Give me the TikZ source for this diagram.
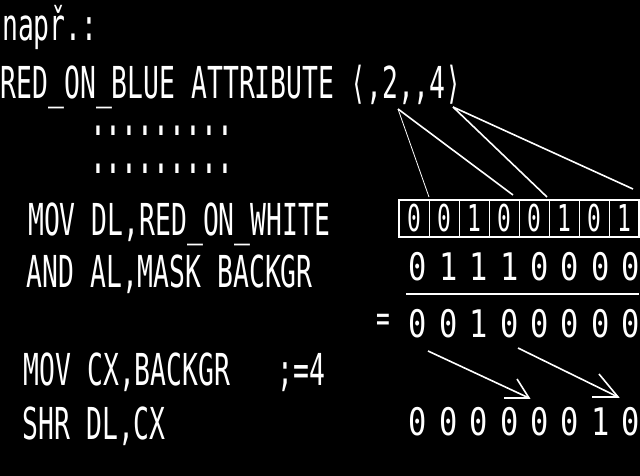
\documentclass[tikz,border=0pt]{standalone}
\usepackage{fontspec}
\usepackage{graphicx}
\newfontfamily\crtfont{DejaVu Sans Mono}
\newcommand\crtx[1]{\scalebox{0.6}[1]{#1}}
\newcommand\crtdot[1]{\scalebox{0.6}[1.45]{#1}}
\newcommand\crtd[1]{\scalebox{0.8}[1]{#1}}
\newcommand\crtb[1]{\scalebox{0.62}[1]{#1}}
\begin{document}
\begin{tikzpicture}[x=1pt,y=-1pt,
  txt/.style={anchor=base west, inner sep=0pt, text=white, font=\crtfont\fontsize{44}{44}\selectfont},
  bit/.style={anchor=center, inner sep=0pt, text=white, font=\crtfont\fontsize{38}{38}\selectfont},
  cell/.style={draw=white, line width=0.8pt, minimum width=30pt, minimum height=37pt, inner sep=0pt, text=white, font=\crtfont\fontsize{37}{37}\selectfont},
  lnk/.style={white, line width=1.6pt},
  thinlnk/.style={white, line width=0.8pt}]
\fill[black] (0,0) rectangle (640,476);
\useasboundingbox (0,0) rectangle (640,476);

% text lines
\node[txt] (napr) at (2,41) {\crtx{např.:}};
\node[txt] (attr) at (0.5,99) {\crtx{RED\_ON\_BLUE ATTRIBUTE ⟨,2,,4⟩}};
\node[txt] (dotsa) at (89.8,136) {\crtdot{.........}};
\node[txt] (dotsb) at (89.8,174) {\crtdot{.........}};
\node[txt] (movdl) at (28,235) {\crtx{MOV DL,RED\_ON\_WHITE}};
\node[txt] (andal) at (26.5,287) {\crtx{AND AL,MASK BACKGR}};
\node[txt] (movcx) at (23.5,385) {\crtx{MOV CX,BACKGR\ \ \ ;=4}};
\node[txt] (shrdl) at (22.5,439) {\crtx{SHR DL,CX}};

% attribute byte in boxes
\foreach \d [count=\i from 0] in {0,0,1,0,0,1,0,1}
  \node[cell] (c\i) at (414+30*\i,218.5) {\crtb{\d}};
\draw[white, line width=2pt] (c0.north west) rectangle (c7.south east);

% connectors from the parameters
\coordinate (ptwo) at (398,109);
\coordinate (pfour) at (453,107);
\coordinate (ta) at (429,197);
\coordinate (tb) at (513,195);
\coordinate (tc) at (547,197);
\coordinate (td) at (633,189);
\draw[thinlnk] (ptwo) -- (ta);
\draw[lnk] (ptwo) -- (tb);
\draw[lnk] (pfour) -- (tc);
\draw[lnk] (pfour) -- (td);

% mask row
\foreach \d [count=\i from 0] in {0,1,1,1,0,0,0,0}
  \node[bit] (m\i) at (418+30.4*\i,267) {\crtd{\d}};
\coordinate (rl) at (406,294);
\coordinate (rr) at (639,294);
\draw[white, line width=2.4pt] (rl) -- (rr);

% result row
\node[bit] (eq) at (383,323) {\crtx{=}};
\foreach \d [count=\i from 0] in {0,0,1,0,0,0,0,0}
  \node[bit] (r\i) at (418+30.4*\i,324) {\crtd{\d}};

% shift arrows
\coordinate (sa) at (428,351);
\coordinate (ea) at (529,398);
\coordinate (sb) at (518,348);
\coordinate (eb) at (618,397);
\draw[lnk] (sa) -- (ea);
\draw[lnk] (ea) ++(-25,0) -- (ea) -- ++(-12,-19);
\draw[lnk] (sb) -- (eb);
\draw[lnk] (eb) ++(-26,0) -- (eb) -- ++(-19,-23);

% shifted row
\foreach \d [count=\i from 0] in {0,0,0,0,0,0,1,0}
  \node[bit] (s\i) at (418+30.4*\i,422) {\crtd{\d}};
\end{tikzpicture}
\end{document}
